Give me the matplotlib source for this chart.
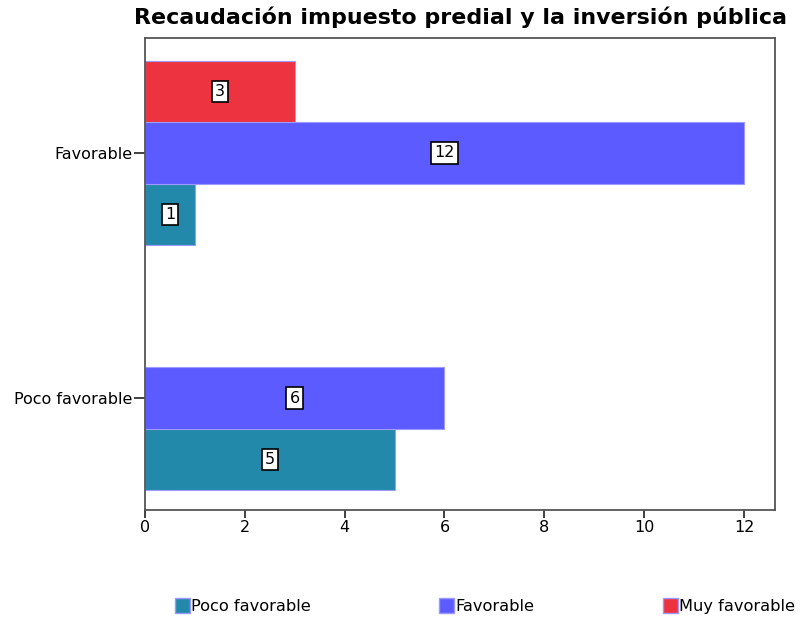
import numpy as np
import matplotlib
matplotlib.use("Agg")
import matplotlib.pyplot as plt
from matplotlib.patches import Patch

plt.rcParams['font.family'] = ['DejaVu Sans']

# --- datos ---
categorias = ["Poco favorable", "Favorable"]
series = ["Poco favorable", "Favorable", "Muy favorable"]
poco_favorable = [5, 1]
favorable = [6, 12]
muy_favorable = [0, 3]
colores = ["#2389aa", "#5b5bff", "#ee3340"]

valores = [poco_favorable, favorable, muy_favorable]
offsets = [-0.25, 0.0, 0.25]
alto = 0.25

fig = plt.figure(figsize=(8.01, 6.2), dpi=100)
ax = fig.add_axes([0.181, 0.1774, 0.7865, 0.7613])

y = np.arange(len(categorias))
for vals, off, col in zip(valores, offsets, colores):
    for yi, v in zip(y, vals):
        if v == 0:
            continue
        ax.barh(yi + off, v, height=alto, color=col, edgecolor="#9a9aff", linewidth=0.8)
        ax.text(v / 2, yi + off, str(v), ha="center", va="center", fontsize=11.5,
                bbox=dict(boxstyle="square,pad=0.2", facecolor="white", edgecolor="black", linewidth=1.2))

ax.set_xlim(0, 12.62)
ax.set_ylim(-0.457, 1.469)
ax.set_xticks(range(0, 13, 2))
ax.set_yticks(y)
ax.set_yticklabels(categorias)
ax.tick_params(axis="both", labelsize=11.5, width=1.3, color="#333333", pad=1)
ax.tick_params(axis="y", length=8)
ax.tick_params(axis="x", length=6)
for s in ax.spines.values():
    s.set_color("#555555")
    s.set_linewidth(1.3)

fig.suptitle("Recaudación impuesto predial y la inversión pública", x=0.5755, y=0.99,
             fontsize=15.9, fontweight="bold")

handles = [Patch(facecolor=c, edgecolor="#9a9aff", label=s) for c, s in zip(colores, series)]
fig.legend(handles=handles, loc="center", bbox_to_anchor=(0.6055, 0.022), ncol=3, frameon=False,
           fontsize=11.7, handlelength=0.9, handleheight=1.0, handletextpad=0.1, columnspacing=7.9)

fig.savefig("out.png", dpi=100)
